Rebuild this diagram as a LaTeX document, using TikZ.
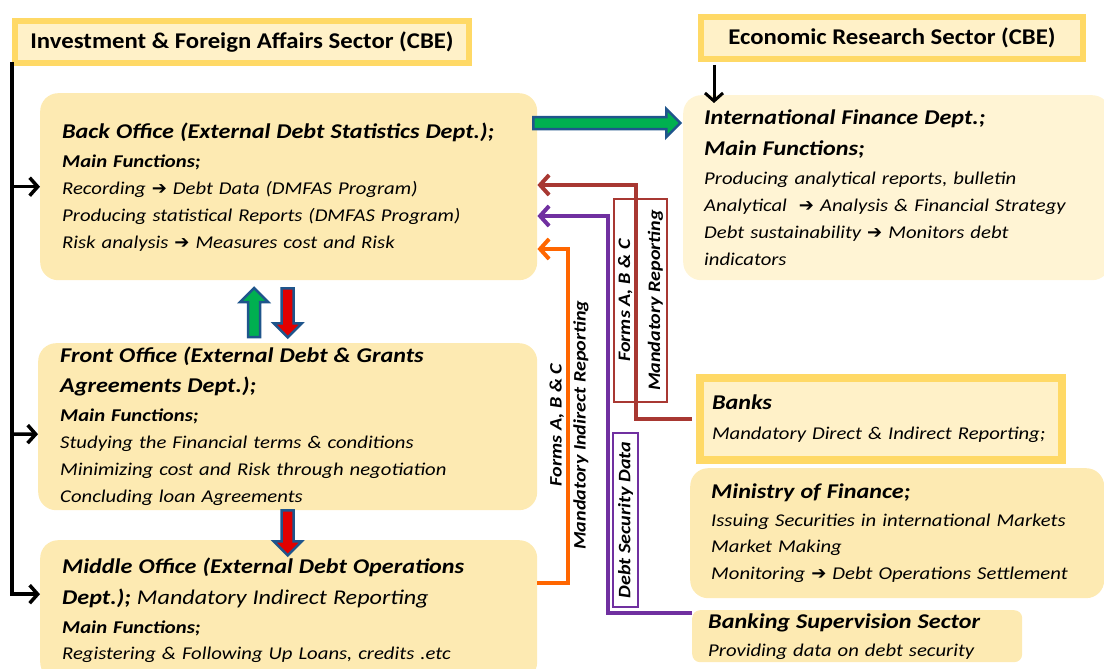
\documentclass[tikz,border=0pt]{standalone}
\usepackage{fontspec}
\setmainfont{Carlito}[FakeStretch=1.15]
\newfontfamily\sectorfont{Carlito}[FakeStretch=1.1]
\newfontfamily\dingfont{DejaVu Sans}
\usetikzlibrary{arrows.meta,positioning,calc}
\definecolor{gold}{RGB}{255,217,102}
\definecolor{palegold}{RGB}{255,241,200}
\definecolor{officefill}{RGB}{253,234,178}
\definecolor{paleoffice}{RGB}{255,244,212}
\definecolor{arrblue}{RGB}{31,85,140}
\definecolor{arrgreen}{RGB}{0,176,80}
\definecolor{arrred}{RGB}{225,0,0}
\definecolor{brn}{RGB}{168,56,50}
\definecolor{prp}{RGB}{112,48,160}
\definecolor{org}{RGB}{255,102,0}

% heavy arrow used inside the function lists
\newcommand\harr{{\dingfont\bfseries\char"2794}}
% first lines of each box
\newcommand\headline{\bfseries\fontsize{21}{24}\selectfont}

\tikzset{
  pics/blockarrow/.style 2 args={code={
    \draw[draw=arrblue,line width=2.5pt,line join=miter,fill=#2]
      (0,-6) -- ({#1-14},-6) -- ({#1-14},-14) -- (#1,0) -- ({#1-14},14) -- ({#1-14},6) -- (0,6) -- cycle;
  }}
}

\begin{document}
\begin{tikzpicture}[x=1pt,y=-1pt,
    sectorbox/.style={draw=gold,line width=6pt,fill=palegold,anchor=north west,inner sep=0pt,
      font=\sectorfont\bfseries\fontsize{22.5}{26}\selectfont},
    officebox/.style={fill=officefill,rounded corners=18pt,anchor=north west,align=left,
      inner xsep=22pt,inner ysep=0pt,font=\itshape\fontsize{18}{27}\selectfont},
    blk/.style={line width=3.5pt,black},
    feed/.style={line width=4pt,-{Straight Barb[length=9pt,width=20pt]}},
    labtext/.style={rotate=90,align=center,inner sep=0pt,font=\bfseries\itshape\fontsize{17.5}{24}\selectfont}]
  \clip (0,0) rectangle (1104,669);

  % sectors
  \node[sectorbox,minimum width=454pt,minimum height=42pt] (ifas) at (12,18) {Investment \& Foreign Affairs Sector (CBE)};
  \node[sectorbox,minimum width=382pt,minimum height=42pt] (ers) at (698,14) {Economic Research Sector (CBE)};

  % offices
  \node[officebox,text width=453pt,minimum height=187pt] (bo) at (40,93) {%
    {\headline Back Office (External Debt Statistics Dept.);}\\[2pt]
    \textbf{Main Functions;}\\
    Recording \harr{} Debt Data (DMFAS Program)\\
    Producing statistical Reports (DMFAS Program)\\
    Risk analysis \harr{} Measures cost and Risk};
  \node[officebox,text width=455pt,minimum height=167pt] (fo) at (38,343) {%
    {\headline Front Office (External Debt \& Grants}\\[3pt]
    {\headline Agreements Dept.);}\\[2pt]
    \textbf{Main Functions;}\\
    Studying the Financial terms \& conditions\\
    Minimizing cost and Risk through negotiation\\
    Concluding loan Agreements};
  \node[officebox,text width=453pt,minimum height=140pt] (mo) at (40,540) {%
    {\headline Middle Office (External Debt Operations}\\[4pt]
    {\headline Dept.); \mdseries Mandatory Indirect Reporting}\\[2pt]
    \textbf{Main Functions;}\\[-1pt]
    Registering \& Following Up Loans, credits .etc};
  \node[officebox,fill=paleoffice,text width=385pt,inner xsep=21pt,minimum height=185pt] (ifd) at (683,95) {%
    {\headline International Finance Dept.;}\\[4pt]
    {\headline Main Functions;}\\[2pt]
    Producing analytical reports, bulletin\\
    Analytical \ \harr{} Analysis \& Financial Strategy\\
    Debt sustainability \harr{} Monitors debt\\
    indicators};

  % reporting bodies
  \node[officebox,rounded corners=0pt,draw=gold,line width=8pt,fill=palegold,
    inner xsep=12pt,text width=338pt,minimum height=82pt] (banks) at (696,374) {%
    {\headline Banks}\\[3pt]
    Mandatory Direct \& Indirect Reporting;};
  \node[officebox,text width=372pt,inner xsep=21pt,minimum height=130pt] (mof) at (690,468) {%
    {\headline Ministry of Finance;}\\[1pt]
    Issuing Securities in international Markets\\[-1pt]
    Market Making\\
    Monitoring \harr{} Debt Operations Settlement};
  \node[officebox,rounded corners=8pt,text width=298pt,inner xsep=16pt,minimum height=52pt] (bss) at (692,610) {%
    {\headline Banking Supervision Sector}\\[1pt]
    Providing data on debt security};

  % labels on the reporting lines
  \node[labtext,draw=brn,line width=2pt,minimum width=203pt,minimum height=53pt,
    font=\bfseries\itshape\fontsize{17.5}{30}\selectfont] (brnlab) at (640.5,300.5) {Forms A, B \& C\\Mandatory Reporting};
  \node[labtext] (orglab) at (569,425) {Forms A, B \& C\\Mandatory Indirect Reporting};
  \node[labtext,draw=prp,line width=1.5pt,minimum width=174pt,minimum height=25pt] (prplab) at (625.5,520) {Debt Security Data};

  % chain of command
  \coordinate (trunk) at (12,62);
  \draw[blk,-{Straight Barb[length=8pt,width=18pt]}] (trunk) |- ([yshift=16pt]mo.west);
  \draw[blk,-{Straight Barb[length=8pt,width=18pt]}] (trunk |- bo.west) -- (bo.west);
  \draw[blk,-{Straight Barb[length=8pt,width=18pt]}] (trunk |- 0,434) -- ([yshift=-7.5pt]fo.west);
  \draw[blk,line width=3pt,-{Straight Barb[length=8pt,width=18pt]}] (ers.south west) ++(16,3) -- ++(0,38);

  % reporting lines back to the back office
  \coordinate (brnup) at (636,185);
  \coordinate (prpup) at (608,216);
  \coordinate (orgup) at (568,249);
  \draw[feed,brn] ([xshift=-4pt]banks.west) -| (brnup) -- (brnup -| bo.east);
  \draw[feed,prp] ([yshift=23pt]bss.west) -| (prpup) -- (prpup -| bo.east);
  \draw[feed,org] ([yshift=27pt]mo.east) -| (orgup) -- (orgup -| bo.east);

  % flows between the offices
  \path (bo.north east) ++(-4,30) pic {blockarrow={147}{arrgreen}};
  \path (fo.north) ++(-33.5,-6) pic[rotate=90] {blockarrow={49}{arrgreen}};
  \path (bo.south) ++(-1,8) pic[rotate=-90] {blockarrow={49}{arrred}};
  \path (fo.south) pic[rotate=-90] {blockarrow={45}{arrred}};
\end{tikzpicture}
\end{document}
